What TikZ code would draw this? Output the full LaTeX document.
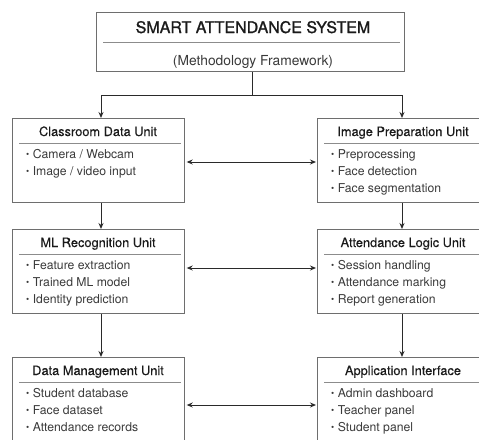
\documentclass[tikz,border=0pt]{standalone}
\usepackage{fontspec}
\setmainfont{TeX Gyre Heros}
\newfontfamily\titlefont[FakeBold=1.2]{TeX Gyre Heros}
\newfontfamily\headfont[FakeBold=0.3]{TeX Gyre Heros}
\usetikzlibrary{arrows.meta,calc}
\definecolor{boxgray}{HTML}{6E6E6E}
\definecolor{sepgray}{HTML}{8C8C8C}
\definecolor{linedark}{HTML}{2A2A2A}
\definecolor{txtd}{HTML}{1A1A1A}
\definecolor{txtb}{HTML}{3A3A3A}
\newcommand\bul{\raisebox{0.8pt}{\fontsize{9}{9}\selectfont •}\hspace{3.5pt}}
\newcommand\unitbox[5]{%
  \node[box] (#1) at (#2,#3) {};
  \node[btitle] (#1-t) at ($(#1.north west)+(86,18)$) {#4};
  \draw[sep] ($(#1.north west)+(7,25)$) -- ($(#1.north east)+(-4,25)$);
  \foreach \t [count=\i] in {#5}
    \node[item] (#1-\i) at ($(#1.north west)+(14,40+17.3*\i-17.3)$) {\bul\t};
}
\begin{document}
\begin{tikzpicture}[x=1pt,y=-1pt,
  box/.style={draw=boxgray,line width=1.2pt,rectangle,inner sep=0,anchor=north west,minimum width=172pt,minimum height=84pt},
  sep/.style={draw=sepgray,line width=1pt},
  conn/.style={draw=linedark,line width=1pt},
  arr/.style={conn,-{Stealth[length=6pt,width=5pt]}},
  darr/.style={conn,{Stealth[length=6pt,width=5pt]}-{Stealth[length=6pt,width=5pt]},shorten <=1.5pt,shorten >=1pt},
  btitle/.style={anchor=base,inner sep=0,text=txtd,font=\headfont\fontsize{12.8}{14}\selectfont},
  item/.style={anchor=base west,inner sep=0,text=txtb,font=\fontsize{12.2}{14}\selectfont},
]
\clip (0,0) rectangle (479,439);
\fill[white] (0,0) rectangle (479,439);
% main title box
\node[box,minimum width=308pt,minimum height=59pt] (main) at (96,12) {};
\node[anchor=base,inner sep=0,text=txtd,font=\titlefont\fontsize{16}{18}\selectfont] (ttl) at (253,33) {SMART ATTENDANCE SYSTEM};
\draw[sep] ($(main.north west)+(7,30)$) -- ($(main.north east)+(-5,30)$);
\node[anchor=base,inner sep=0,text=txtb,font=\fontsize{13.8}{16}\selectfont] (sub) at (253,65) {(Methodology Framework)};
% unit boxes
\unitbox{cdu}{12}{118}{Classroom Data Unit}{Camera / Webcam, Image / video input}
\unitbox{ipu}{317}{118}{Image Preparation Unit}{Preprocessing, Face detection, Face segmentation}
\unitbox{mlu}{12}{229}{ML Recognition Unit}{Feature extraction, Trained ML model, Identity prediction}
\unitbox{alu}{317}{229}{Attendance Logic Unit}{Session handling, Attendance marking, Report generation}
\unitbox{dmu}{12}{357}{Data Management Unit}{Student database, Face dataset, Attendance records}
\unitbox{api}{317}{357}{Application Interface}{Admin dashboard, Teacher panel, Student panel}
% connectors
\coordinate (stem) at (252,95);
\coordinate (lc) at (101,95);
\coordinate (rc) at (402,95);
\draw[conn] (stem |- main.south) -- (stem);
\draw[arr] (stem) -| (lc |- cdu.north);
\draw[arr] (stem) -| (rc |- ipu.north);
\draw[arr] (lc |- cdu.south) -- (lc |- mlu.north);
\draw[arr] (rc |- ipu.south) -- (rc |- alu.north);
\draw[arr] (lc |- mlu.south) -- (lc |- dmu.north);
\draw[arr] (rc |- alu.south) -- (rc |- api.north);
\coordinate (h1) at (0,162);
\coordinate (h2) at (0,268);
\coordinate (h3) at (0,405);
\draw[darr] (cdu.east |- h1) -- (ipu.west |- h1);
\draw[darr] (mlu.east |- h2) -- (alu.west |- h2);
\draw[darr] (dmu.east |- h3) -- (api.west |- h3);
\end{tikzpicture}
\end{document}
